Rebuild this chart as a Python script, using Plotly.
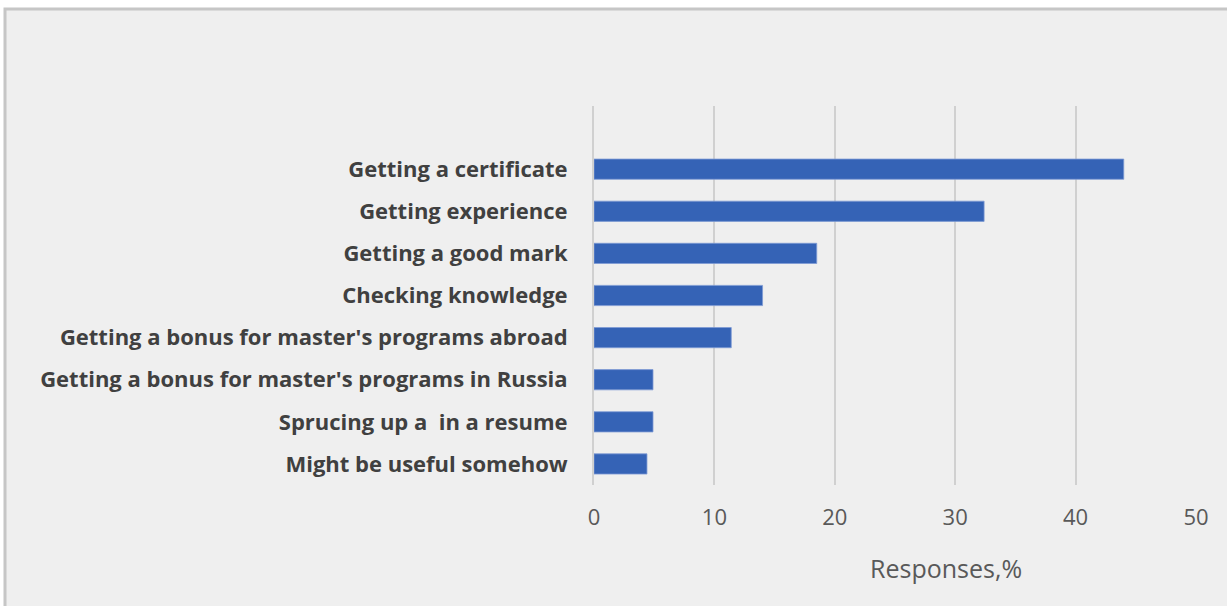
import plotly.graph_objects as go

# Survey: reasons for taking the exam (share of responses, %)
categories = [
    "Getting a certificate",
    "Getting experience",
    "Getting a good mark",
    "Checking knowledge",
    "Getting a bonus for master's programs abroad",
    "Getting a bonus for master's programs in Russia",
    "Sprucing up a  in a resume",
    "Might be useful somehow",
]
responses = [44.0, 32.4, 18.5, 14.0, 11.4, 4.9, 4.9, 4.4]
x_ticks = [0, 10, 20, 30, 40, 50]
axis_title = "Responses,%"

# bottom-to-top order for a horizontal bar chart
cats_plot = categories[::-1]
vals_plot = responses[::-1]

W, H = 1227, 606
L, R, T, B = 594, 31, 106, 121
pw, ph = W - L - R, H - T - B
FONT = "Open Sans, Noto Sans, sans-serif"


def px_x(p):
    return (p - L) / pw


def px_y(p):
    return (H - B - p) / ph


fig = go.Figure(
    go.Bar(
        x=vals_plot,
        y=cats_plot,
        orientation="h",
        marker=dict(color="#3563b6", line=dict(color="#7d9ad4", width=0.8)),
        width=0.48,
    )
)

fig.update_layout(
    width=W,
    height=H,
    margin=dict(l=L, r=R, t=T, b=B),
    paper_bgcolor="white",
    plot_bgcolor="rgba(0,0,0,0)",
    showlegend=False,
    font=dict(family=FONT, color="#404040"),
    shapes=[
        dict(
            type="rect",
            xref="paper",
            yref="paper",
            x0=px_x(5),
            x1=px_x(1240),
            y0=px_y(620),
            y1=px_y(9),
            fillcolor="#efefef",
            line=dict(color="#c6c6c6", width=3),
            layer="below",
        )
    ],
    annotations=[
        dict(
            text=axis_title,
            xref="paper",
            yref="paper",
            x=px_x(946),
            y=px_y(568),
            showarrow=False,
            font=dict(size=25, color="#595959", family=FONT),
            xanchor="center",
            yanchor="middle",
        )
    ],
)

fig.update_xaxes(
    range=[0, 50],
    tickvals=x_ticks,
    showgrid=True,
    gridcolor="#d0d0d0",
    gridwidth=2,
    zeroline=False,
    showline=False,
    ticks="",
    ticklabelstandoff=17,
    tickfont=dict(size=22, color="#595959", family=FONT),
)

fig.update_yaxes(
    type="category",
    categoryorder="array",
    categoryarray=cats_plot,
    range=[-0.5, len(cats_plot) + 0.5],
    showgrid=False,
    zeroline=False,
    showline=True,
    linecolor="#d0d0d0",
    linewidth=2,
    ticks="",
    ticklabelstandoff=20,
    tickfont=dict(size=22, color="#404040", family=FONT, weight="bold"),
)

fig.write_html("out.html")
